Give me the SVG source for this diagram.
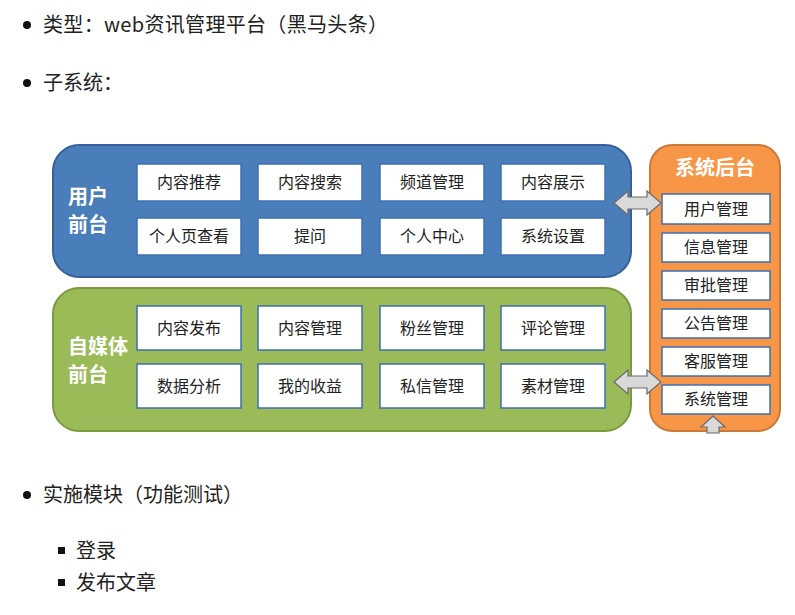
<svg xmlns="http://www.w3.org/2000/svg" width="795" height="615" viewBox="0 0 795 615">
<style>
.t{font-family:"Noto Sans CJK SC","Liberation Serif",serif;font-size:20px;fill:#222}
.b{fill:#fff;stroke:#3f6fb0;stroke-width:1.5}
.bt{font-family:"Noto Sans CJK SC",sans-serif;font-size:16px;fill:#222;text-anchor:middle}
.h{font-family:"Noto Sans CJK SC",sans-serif;font-size:20px;font-weight:bold;fill:#fff}
.ar{fill:#d9d9d9;stroke:#6a6a6a;stroke-width:1.2}
</style>
<rect width="795" height="615" fill="#fff"/>
<g id="text">
<circle cx="27" cy="25" r="4" fill="#111"/><text class="t" x="43" y="32" textLength="345">类型：web资讯管理平台（黑马头条）</text>
<circle cx="27" cy="83" r="4" fill="#111"/><text class="t" x="43" y="90">子系统：</text>
<circle cx="27" cy="495" r="4" fill="#111"/><text class="t" x="43" y="502">实施模块（功能测试）</text>
<rect x="58" y="547" width="7" height="7" fill="#111"/><text class="t" x="76" y="558">登录</text>
<rect x="58" y="579" width="7" height="7" fill="#111"/><text class="t" x="76" y="590">发布文章</text>
</g>
<g id="user">
<rect x="53" y="145" width="578" height="132" rx="26" fill="#4a7ebb" stroke="#37609a" stroke-width="2"/>
<text class="h" x="68" y="204">用户</text><text class="h" x="68" y="232">前台</text>
<rect class="b" x="137" y="164" width="104" height="37"/><text class="bt" x="189" y="188">内容推荐</text>
<rect class="b" x="258" y="164" width="104" height="37"/><text class="bt" x="310" y="188">内容搜索</text>
<rect class="b" x="380" y="164" width="104" height="37"/><text class="bt" x="432" y="188">频道管理</text>
<rect class="b" x="501" y="164" width="104" height="37"/><text class="bt" x="553" y="188">内容展示</text>
<rect class="b" x="137" y="218" width="104" height="37"/><text class="bt" x="189" y="242">个人页查看</text>
<rect class="b" x="258" y="218" width="104" height="37"/><text class="bt" x="310" y="242">提问</text>
<rect class="b" x="380" y="218" width="104" height="37"/><text class="bt" x="432" y="242">个人中心</text>
<rect class="b" x="501" y="218" width="104" height="37"/><text class="bt" x="553" y="242">系统设置</text>
</g>
<g id="media">
<rect x="53" y="288" width="578" height="143" rx="26" fill="#9bbb59" stroke="#7a9a3f" stroke-width="2"/>
<text class="h" x="68" y="354">自媒体</text><text class="h" x="68" y="382">前台</text>
<rect class="b" x="137" y="306" width="104" height="44"/><text class="bt" x="189" y="334">内容发布</text>
<rect class="b" x="258" y="306" width="104" height="44"/><text class="bt" x="310" y="334">内容管理</text>
<rect class="b" x="380" y="306" width="104" height="44"/><text class="bt" x="432" y="334">粉丝管理</text>
<rect class="b" x="501" y="306" width="104" height="44"/><text class="bt" x="553" y="334">评论管理</text>
<rect class="b" x="137" y="364" width="104" height="44"/><text class="bt" x="189" y="392">数据分析</text>
<rect class="b" x="258" y="364" width="104" height="44"/><text class="bt" x="310" y="392">我的收益</text>
<rect class="b" x="380" y="364" width="104" height="44"/><text class="bt" x="432" y="392">私信管理</text>
<rect class="b" x="501" y="364" width="104" height="44"/><text class="bt" x="553" y="392">素材管理</text>
</g>
<g id="admin">
<rect x="650" y="145" width="130" height="286" rx="22" fill="#f79646" stroke="#c87a3a" stroke-width="2"/>
<text class="h" x="715" y="175" text-anchor="middle">系统后台</text>
<rect class="b" x="662" y="194" width="108" height="30"/><text class="bt" x="716" y="215">用户管理</text>
<rect class="b" x="662" y="233" width="108" height="29"/><text class="bt" x="716" y="253">信息管理</text>
<rect class="b" x="662" y="271" width="108" height="29"/><text class="bt" x="716" y="291">审批管理</text>
<rect class="b" x="662" y="309" width="108" height="29"/><text class="bt" x="716" y="329">公告管理</text>
<rect class="b" x="662" y="347" width="108" height="29"/><text class="bt" x="716" y="367">客服管理</text>
<rect class="b" x="662" y="385" width="108" height="29"/><text class="bt" x="716" y="405">系统管理</text>
</g>
<g id="connectors">
<path class="ar" d="M614,203 L628,191 L628,197 L647,197 L647,191 L661,203 L647,215 L647,209 L628,209 L628,215 Z"/>
<path class="ar" d="M614,382 L628,370 L628,376 L647,376 L647,370 L661,382 L647,394 L647,388 L628,388 L628,394 Z"/>
<path class="ar" d="M713,416 L725,427 L719,427 L719,433 L707,433 L707,427 L701,427 Z"/>
</g>
</svg>
